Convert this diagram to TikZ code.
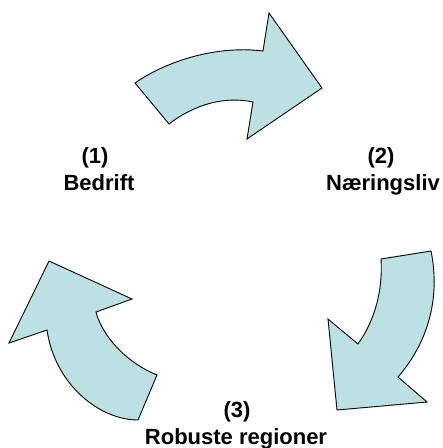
\documentclass[tikz,border=0pt]{standalone}
\usepackage{fontspec}
\setmainfont{Liberation Sans}
\definecolor{arrowfill}{RGB}{188,224,228}
\begin{document}
\begin{tikzpicture}[x=1pt,y=-1pt,
  bigarrow/.style={draw=black,fill=arrowfill,line width=0.9pt,line join=miter},
  lbl/.style={font=\fontsize{22}{26}\selectfont\bfseries,anchor=base,inner sep=0pt}]
\useasboundingbox (0,0) rectangle (443,448);

% curved arrow (1) -> (2)
\path[bigarrow] (135,83) .. controls (165,62) and (215,45) .. (263,51)
  -- (269,13) -- (322,88) -- (247,139) -- (253,102)
  .. controls (225,96) and (195,104) .. (169,124) -- cycle;

% curved arrow (2) -> (3)
\path[bigarrow] (381,259) -- (431,251)
  .. controls (440,295) and (430,340) .. (398,377)
  -- (427,402) -- (337,410) -- (328,319) -- (358,344)
  .. controls (375,320) and (383,290) .. (381,259) -- cycle;

% curved arrow (3) -> (1)
\path[bigarrow] (157,375) -- (138,420)
  .. controls (100,420) and (55,385) .. (47,330)
  -- (9,343) -- (49,261) -- (132,299) -- (96,312)
  .. controls (102,335) and (125,362) .. (157,375) -- cycle;

% labels
\node[lbl] (n1) at (95,163) {(1)};
\node[lbl] (t1) at (99,190) {Bedrift};
\node[lbl] (n2) at (381,163) {(2)};
\node[lbl] (t2) at (383,190) {Næringsliv};
\node[lbl] (n3) at (237,417) {(3)};
\node[lbl] (t3) at (236,444) {Robuste regioner};
\end{tikzpicture}
\end{document}
